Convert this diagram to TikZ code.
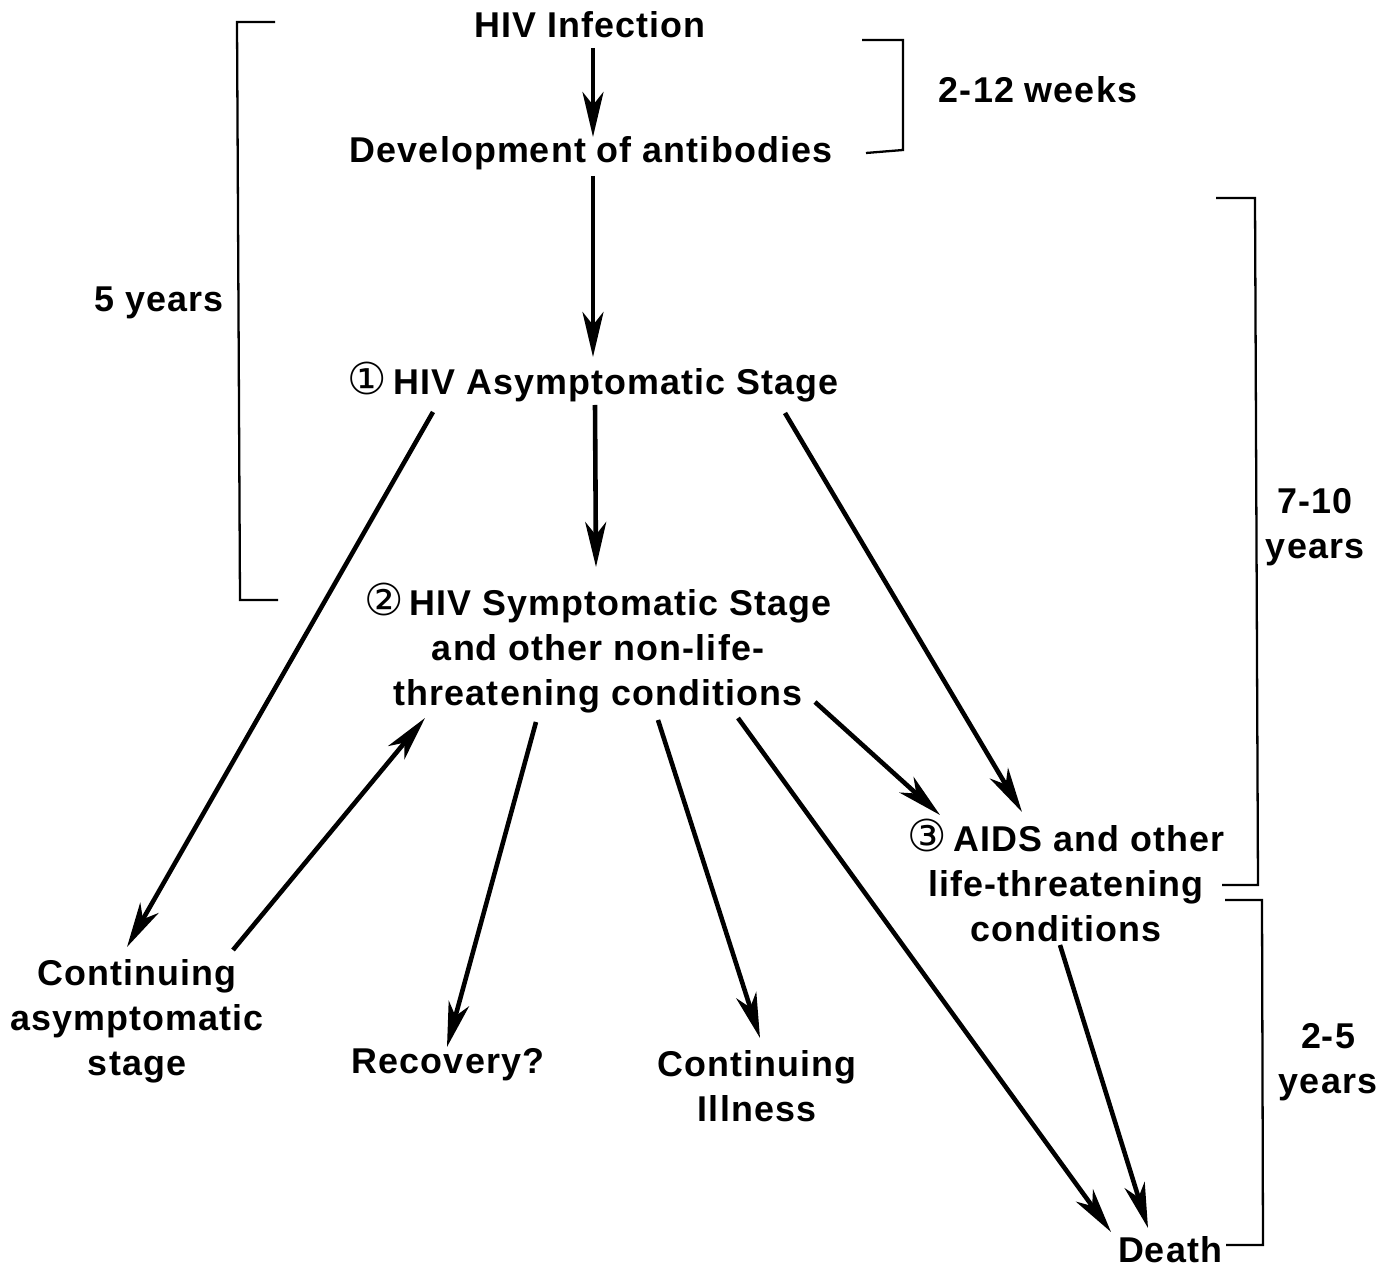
\documentclass[tikz,border=0pt]{standalone}
\usepackage{fontspec}
\setmainfont{Liberation Sans}[LetterSpace=3]
\newfontfamily\circfont{DejaVu Sans}
\usetikzlibrary{arrows.meta}
\newcommand{\cnum}[1]{{\circfont\mdseries\fontsize{12.5}{12}\selectfont #1}}
\tikzset{
  lbl/.style={font=\fontsize{10.2}{12.8}\selectfont\bfseries, align=center, inner sep=0pt},
  arr/.style={line width=1.3pt, -{Stealth[length=0.45cm,width=0.21cm,inset=0.13cm]}},
  brk/.style={line width=0.65pt}
}
\begin{document}
\begin{tikzpicture}[x=0.01cm,y=-0.01cm]
\useasboundingbox (0,0) rectangle (1387,1267);
% text nodes
\node[lbl] (inf) at (590,25) {HIV Infection};
\node[lbl] (dev) at (591,153) {Development of antibodies};
\node[lbl] (wk) at (1038,90) {2-12 weeks};
\node[lbl] (y5) at (159,303) {5 years};
\node[lbl] (asym) at (593,382) {\cnum{①}\,HIV Asymptomatic Stage};
\node[lbl] (sym) at (598,648) {\cnum{②}\,HIV Symptomatic Stage\\and other non-life-\\threatening conditions};
\node[lbl] (y710) at (1315,527) {7-10\\years};
\node[lbl] (aids) at (1066,880) {\cnum{③}\,AIDS and other\\life-threatening\\conditions};
\node[lbl] (cas) at (137,1021) {Continuing\\asymptomatic\\stage};
\node[lbl] (rec) at (448,1065) {Recovery?};
\node[lbl] (cil) at (757,1086) {Continuing\\Illness};
\node[lbl] (y25) at (1328,1062) {2-5\\years};
\node[lbl] (death) at (1170,1250) {Death};
% connector end points
\coordinate (a1s) at (593,48);   \coordinate (a1e) at (593,137);
\coordinate (a2s) at (593,176);  \coordinate (a2e) at (593,357);
\coordinate (a3s) at (595,405);  \coordinate (a3e) at (596,567);
\coordinate (a4s) at (433,412);  \coordinate (a4e) at (127,947);
\coordinate (a5s) at (785,413);  \coordinate (a5e) at (1022,812);
\coordinate (a6s) at (233,950);  \coordinate (a6e) at (425,718);
\coordinate (a7s) at (536,722);  \coordinate (a7e) at (447,1047);
\coordinate (a8s) at (658,720);  \coordinate (a8e) at (760,1038);
\coordinate (a9s) at (738,718);  \coordinate (a9e) at (1111,1232);
\coordinate (a10s) at (815,702); \coordinate (a10e) at (940,815);
\coordinate (a11s) at (1060,945); \coordinate (a11e) at (1148,1228);
% connectors
\draw[arr] (a1s) -- (a1e);
\draw[arr] (a2s) -- (a2e);
\draw[arr] (a3s) -- (a3e);
\draw[arr] (a4s) -- (a4e);
\draw[arr] (a5s) -- (a5e);
\draw[arr] (a6s) -- (a6e);
\draw[arr] (a7s) -- (a7e);
\draw[arr] (a8s) -- (a8e);
\draw[arr] (a9s) -- (a9e);
\draw[arr] (a10s) -- (a10e);
\draw[arr] (a11s) -- (a11e);
% brackets
\draw[brk] (275,22) -- (237,22) -- (240,600) -- (278,600);
\draw[brk] (862,40) -- (903,40) -- (903,150) -- (866,153);
\draw[brk] (1216,198) -- (1255,198) -- (1258,885) -- (1222,885);
\draw[brk] (1225,900) -- (1262,900) -- (1263,1245) -- (1226,1245);
\end{tikzpicture}
\end{document}
